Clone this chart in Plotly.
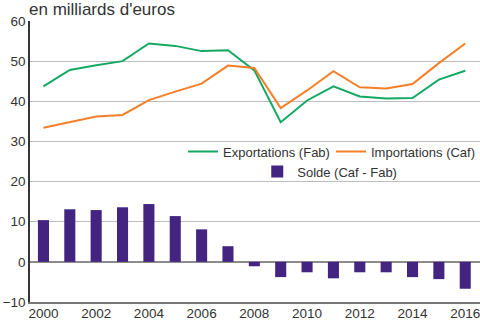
import plotly.graph_objects as go

years = list(range(2000, 2017))
exportations = [43.7, 47.8, 49.0, 50.0, 54.4, 53.8, 52.5, 52.7, 47.7, 34.8,
                40.2, 43.7, 41.2, 40.7, 40.8, 45.4, 47.6]
importations = [33.4, 34.8, 36.2, 36.6, 40.3, 42.4, 44.4, 48.9, 48.3, 38.3,
                 42.7, 47.5, 43.5, 43.2, 44.3, 49.5, 54.4]
solde = [10.4, 13.1, 12.9, 13.6, 14.4, 11.4, 8.1, 3.9, -1.1, -3.8,
         -2.6, -4.1, -2.6, -2.6, -3.8, -4.3, -6.7]
x_ticks = [2000, 2002, 2004, 2006, 2008, 2010, 2012, 2014, 2016]
y_ticks = [-10, 0, 10, 20, 30, 40, 50, 60]

GREEN = "#15a862"
ORANGE = "#f47f28"
PURPLE = "#432581"
FONT = "Liberation Sans, Arial, sans-serif"
TEXT = "#333333"
SIZE = 13.5

fig = go.Figure()
fig.add_trace(go.Bar(
    x=years, y=solde, name="Solde (Caf - Fab)", marker_color=PURPLE,
    marker_line_width=0, width=0.42, legend="legend2",
))
fig.add_trace(go.Scatter(
    x=years, y=exportations, name="Exportations (Fab)", mode="lines",
    line=dict(color=GREEN, width=2),
))
fig.add_trace(go.Scatter(
    x=years, y=importations, name="Importations (Caf)", mode="lines",
    line=dict(color=ORANGE, width=2),
))

fig.update_layout(
    width=480, height=320,
    margin=dict(l=30, r=0, t=21, b=18, autoexpand=False),
    paper_bgcolor="white", plot_bgcolor="white",
    font=dict(family=FONT, size=SIZE, color=TEXT),
    showlegend=True,
    legend=dict(
        orientation="h", x=0.34, y=0.535, xanchor="left", yanchor="middle",
        bgcolor="rgba(0,0,0,0)", font=dict(family=FONT, size=13, color=TEXT),
        itemwidth=30, entrywidth=103, entrywidthmode="pixels",
    ),
    legend2=dict(
        orientation="h", x=0.505, y=0.464, xanchor="left", yanchor="middle",
        bgcolor="rgba(0,0,0,0)", font=dict(family=FONT, size=13, color=TEXT),
    ),
    annotations=[dict(
        text="en milliards d'euros", x=0, y=1, xref="paper", yref="paper",
        xanchor="left", yanchor="bottom", xshift=-3, yshift=0, showarrow=False,
        font=dict(family=FONT, size=17, color=TEXT),
    )],
)

fig.update_xaxes(
    range=[1999.49, 2016.56], tickvals=x_ticks, showgrid=False,
    showline=True, linecolor="#777777", linewidth=1.5,
    ticks="", zeroline=False, ticklabeloverflow="allow", ticklabelstandoff=-2,
    tickfont=dict(family=FONT, size=SIZE, color=TEXT),
)
fig.update_yaxes(
    range=[-10, 60], tickvals=y_ticks, showgrid=True, gridcolor="#bdbdbd",
    gridwidth=1, zeroline=True, zerolinecolor="#8c8c8c", zerolinewidth=2,
    showline=True, linecolor="#333333", linewidth=1.5, ticks="",
    tickfont=dict(family=FONT, size=SIZE, color=TEXT),
)

fig.write_html("out.html")
